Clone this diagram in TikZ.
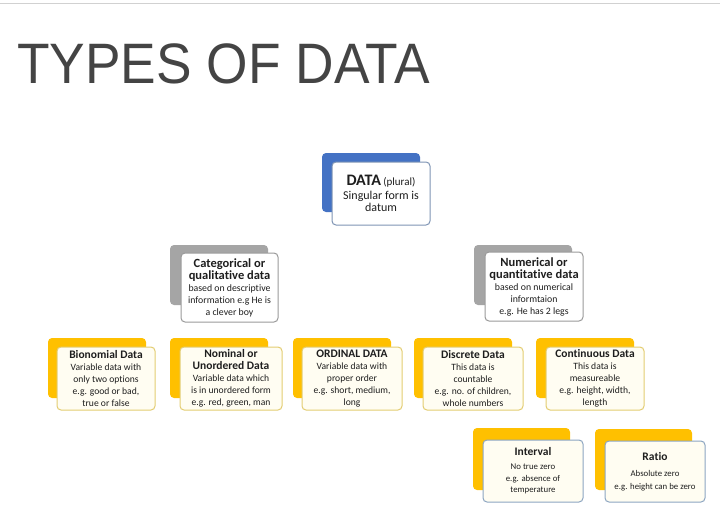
\documentclass[tikz,border=0pt]{standalone}
\usepackage{fontspec}
\setmainfont{Carlito}[Ligatures=NoCommon]
\newfontfamily\titlefont{Liberation Sans}
\definecolor{blueS}{HTML}{4472C4}
\definecolor{greyS}{HTML}{A5A5A5}
\definecolor{yellowS}{HTML}{FFC000}
\definecolor{blueB}{HTML}{7F95B5}
\definecolor{greyB}{HTML}{9A9A9A}
\definecolor{yellowB}{HTML}{E3CD72}
\definecolor{creamF}{HTML}{FFFDF2}
\definecolor{lineG}{HTML}{A8B4C0}
\definecolor{lineY}{HTML}{F0CE5A}
\definecolor{lineB}{HTML}{8DA6C2}
\definecolor{titleC}{HTML}{444444}
\definecolor{textC}{HTML}{1E1E1E}
\newcommand\dataT{\fontsize{16}{19}\selectfont\bfseries}
\newcommand\dataB{\fontsize{12}{14}\selectfont}
\newcommand\catT{\fontsize{12.5}{14}\selectfont\bfseries}
\newcommand\catB{\fontsize{9.8}{11}\selectfont}
\newcommand\botT{\fontsize{11.5}{11.7}\selectfont\bfseries}
\newcommand\botB{\fontsize{9.6}{11.7}\selectfont}
\newcommand\lowT{\fontsize{11.5}{13}\selectfont\bfseries}
\newcommand\lowB{\fontsize{8.8}{11}\selectfont}
\pgfdeclarelayer{bg}
\pgfsetlayers{bg,main}
\begin{document}
\begin{tikzpicture}[x=1pt,y=-1pt,
  shadowbox/.style={rectangle, rounded corners=4pt, inner sep=0pt},
  frontbox/.style={rectangle, rounded corners=4pt, draw, line width=1pt,
    inner sep=0pt, align=center, text=textC},
  conn/.style={line width=1.2pt},
  topline/.style={draw=black!18, line width=1pt}]
\fill[white] (0,0) rectangle (720,525);
\useasboundingbox (0,0) rectangle (720,525);
\draw[topline] (0,3) -- (720,3);

\node[anchor=base west, text=titleC, inner sep=0pt] (title) at (17,83)
  {\titlefont\fontsize{57}{60}\selectfont\scalebox{0.935}[1]{TYPES OF DATA}};

% level 1
\node[shadowbox, fill=blueS, minimum width=98pt, minimum height=59pt] (datas) at (371,182.5) {};
\node[frontbox, draw=blueB, fill=white, minimum width=98pt, minimum height=63pt] (data) at (381,193.5)
  {{\dataT DATA} {\fontsize{11}{14}\selectfont(plural)}\\[2pt] \dataB Singular form is\\ \dataB datum};

% level 2
\node[shadowbox, fill=greyS, minimum width=98pt, minimum height=60pt] (cats) at (219,275) {};
\node[frontbox, draw=greyB, fill=white, minimum width=97pt, minimum height=69pt] (cat) at (229.5,287.5)
  {\catT Categorical or\\ \catT qualitative data\\ \catB based on descriptive\\ \catB information e.g He is\\ \catB a clever boy};
\node[shadowbox, fill=greyS, minimum width=98pt, minimum height=60pt] (nums) at (523,275) {};
\node[frontbox, draw=greyB, fill=white, minimum width=98pt, minimum height=69pt] (num) at (534,286.5)
  {\catT Numerical or\\ \catT quantitative data\\ \catB based on numerical\\ \catB informtaion\\ \catB e.g. He has 2 legs};

% level 3
\node[shadowbox, fill=yellowS, minimum width=98pt, minimum height=60pt] (bins) at (97,368) {};
\node[frontbox, draw=yellowB, fill=creamF, minimum width=98pt, minimum height=63pt] (bin) at (106,378.5)
  {\botT Bionomial Data\\ \botB Variable data with\\ \botB only two options\\ \botB e.g. good or bad,\\ \botB true or false};
\node[shadowbox, fill=yellowS, minimum width=98pt, minimum height=60pt] (noms) at (219,368) {};
\node[frontbox, draw=yellowB, fill=creamF, minimum width=102pt, minimum height=63pt] (nom) at (231,378.5)
  {\botT Nominal or\\ \botT Unordered Data\\ \botB Variable data which\\ \botB is in unordered form\\ \botB e.g. red, green, man};
\node[shadowbox, fill=yellowS, minimum width=98pt, minimum height=60pt] (ords) at (342,368) {};
\node[frontbox, draw=yellowB, fill=creamF, minimum width=100pt, minimum height=63pt] (ord) at (352,378.5)
  {\botT ORDINAL DATA\\ \botB Variable data with\\ \botB proper order\\ \botB e.g. short, medium,\\ \botB long};
\node[shadowbox, fill=yellowS, minimum width=98pt, minimum height=60pt] (discs) at (463,368) {};
\node[frontbox, draw=yellowB, fill=creamF, minimum width=100pt, minimum height=63pt] (disc) at (473,378.5)
  {\botT Discrete Data\\ \botB This data is\\ \botB countable\\ \botB e.g. no. of children,\\ \botB whole numbers};
\node[shadowbox, fill=yellowS, minimum width=98pt, minimum height=60pt] (conts) at (585,368) {};
\node[frontbox, draw=yellowB, fill=creamF, minimum width=98pt, minimum height=63pt] (cont) at (595,378.5)
  {\botT Continuous Data\\ \botB This data is\\ \botB measureable\\ \botB e.g. height, width,\\ \botB length};

% level 4
\node[shadowbox, fill=yellowS, minimum width=97pt, minimum height=62pt] (ints) at (521.5,459) {};
\node[frontbox, draw=lineB, fill=creamF, minimum width=100pt, minimum height=62pt] (int) at (533,471)
  {\lowT Interval\\[2pt] \lowB No true zero\\ \lowB e.g. absence of\\[-1pt] \lowB temperature};
\node[shadowbox, fill=yellowS, minimum width=97pt, minimum height=61pt] (rats) at (643.5,459.5) {};
\node[frontbox, draw=lineB, fill=creamF, minimum width=100pt, minimum height=61pt] (rat) at (655,471.5)
  {\lowT Ratio\\[4pt] \lowB Absolute zero\\[1pt] \lowB e.g. height can be zero};

\begin{pgfonlayer}{bg}
  \draw[conn, draw=lineG] (datas.south) -- ++(0,24) coordinate (j1);
  \draw[conn, draw=lineG] (cats.north) |- (j1) -| (nums.north);
  \draw[conn, draw=lineY] (cats.south) -- ++(0,26) coordinate (j2);
  \draw[conn, draw=lineY] (bins.north) |- (j2) -| (ords.north);
  \draw[conn, draw=lineY] (j2) -- (noms.north);
  \draw[conn, draw=lineY] (nums.south) -- ++(0,26) coordinate (j3);
  \draw[conn, draw=lineY] (discs.north) |- (j3) -| (conts.north);
  \draw[conn, draw=lineB] (conts.south) -- ++(0,22) coordinate (j4);
  \draw[conn, draw=lineB] (ints.north) |- (j4) -| (rats.north);
\end{pgfonlayer}
\end{tikzpicture}
\end{document}
